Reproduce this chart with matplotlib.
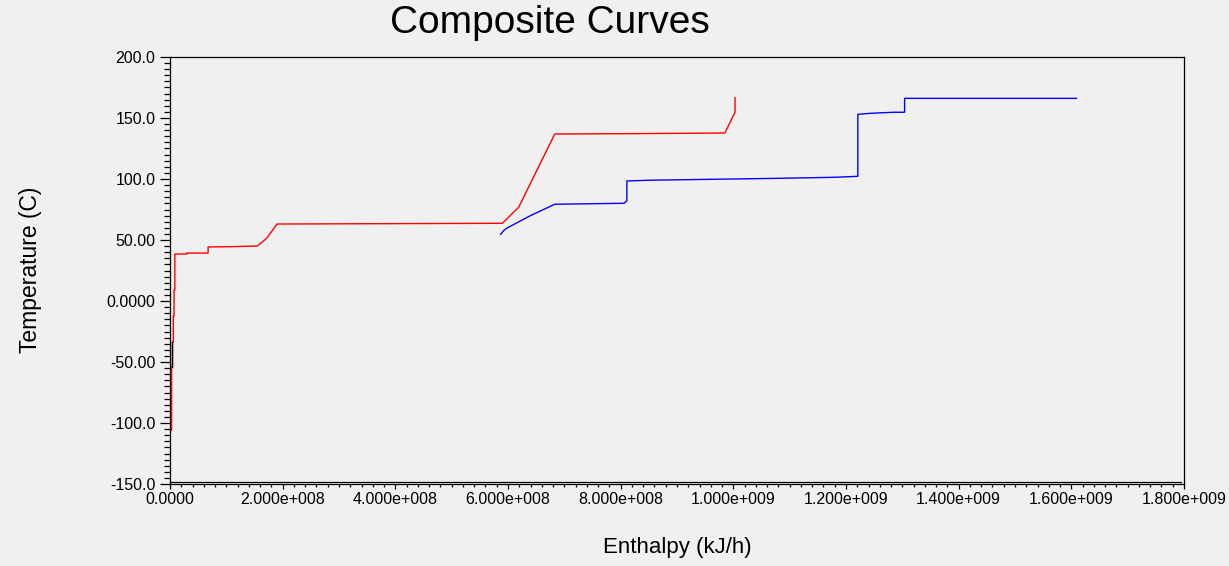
import matplotlib
matplotlib.use('Agg')
import matplotlib.pyplot as plt
from matplotlib.ticker import MultipleLocator, FixedFormatter, FixedLocator

plt.rcParams['font.family'] = ['Liberation Sans', 'DejaVu Sans']

# hot composite curve (red): enthalpy kJ/h, temperature C
hot_h = [2.8e6, 2.8e6, 4.4e6, 4.4e6, 5.9e6, 5.9e6, 7.2e6, 7.2e6, 8.6e6, 8.6e6,
         30e6, 30e6, 67.6e6, 67.6e6, 107e6, 155e6, 163e6, 172e6, 190e6,
         590e6, 619e6, 683e6, 834e6, 985e6, 1003e6, 1003e6]
hot_t = [-106, -54, -54, -33.6, -33.6, -12.3, -12.3, 9, 9, 38.5,
         38.5, 39.3, 39.3, 44.3, 44.5, 45.1, 48.0, 51.6, 63.1,
         63.7, 76.8, 136.9, 137.2, 137.7, 154.7, 166.7]

# cold composite curve (blue)
cold_h = [587e6, 593e6, 599e6, 640e6, 683e6, 806e6, 811e6, 811e6, 852e6,
          1085e6, 1179e6, 1221e6, 1221e6, 1242e6, 1284e6, 1304e6, 1304e6, 1609e6]
cold_t = [54.7, 58.0, 60.0, 70.0, 79.3, 80.1, 82.2, 98.4, 99.0,
          100.6, 101.4, 102.2, 153.0, 153.8, 154.7, 154.7, 166.1, 166.1]

# short dark segment near zero enthalpy
low_h = [2.8e6, 2.8e6]
low_t = [-54, -33.6]

y_ticks = [200, 150, 100, 50, 0, -50, -100, -150]
y_labels = ['200.0', '150.0', '100.0', '50.00', '0.0000', '-50.00', '-100.0', '-150.0']
x_ticks = [0, 2e8, 4e8, 6e8, 8e8, 1e9, 1.2e9, 1.4e9, 1.6e9, 1.8e9]
x_labels = ['0.0000', '2.000e+008', '4.000e+008', '6.000e+008', '8.000e+008',
            '1.000e+009', '1.200e+009', '1.400e+009', '1.600e+009', '1.800e+009']

W, H = 1229, 566
bg = '#f0f0f0'
fig = plt.figure(figsize=(W / 100, H / 100), dpi=100, facecolor=bg)
ax = fig.add_axes([170 / W, 1 - 484 / H, (1184 - 170) / W, (484 - 57) / H])
ax.set_facecolor(bg)

ax.plot(cold_h, cold_t, color='#0000ff', lw=1.0)
ax.plot(hot_h, hot_t, color='#ff0000', lw=1.0)
ax.plot(low_h, low_t, color='black', lw=1.0)

ax.set_xlim(0, 1.8e9)
ax.set_ylim(-150, 200)

ax.yaxis.set_major_locator(FixedLocator(y_ticks))
ax.yaxis.set_major_formatter(FixedFormatter(y_labels))
ax.yaxis.set_minor_locator(MultipleLocator(5))
ax.xaxis.set_major_locator(FixedLocator(x_ticks))
ax.xaxis.set_major_formatter(FixedFormatter(x_labels))
ax.xaxis.set_minor_locator(MultipleLocator(2e7))

ax.tick_params(axis='y', which='major', direction='out', length=7, width=0.9, pad=3.5, labelsize=11.5)
ax.tick_params(axis='y', which='minor', direction='out', length=4.5, width=0.9)
ax.tick_params(axis='x', which='major', direction='out', length=3.6, width=0.9, pad=2.5, labelsize=11.5)
ax.tick_params(axis='x', which='minor', direction='out', length=1.8, width=0.9)

for s in ax.spines.values():
    s.set_color('black')
    s.set_linewidth(0.9)

# second line of the frame, just above the x axis
ax.plot([0, 0.997], [0.005, 0.005], transform=ax.transAxes, color='black', lw=0.9, clip_on=False)

fig.text(550 / W, 1 - 33 / H, 'Composite Curves', ha='center', va='baseline', fontsize=28)
fig.text(677 / W, 1 - 553 / H, 'Enthalpy (kJ/h)', ha='center', va='baseline', fontsize=16)
fig.text(31 / W, 1 - 270 / H, 'Temperature (C)', ha='center', va='center', rotation=90, fontsize=16.5)

fig.savefig('out.png', dpi=100, facecolor=bg)
